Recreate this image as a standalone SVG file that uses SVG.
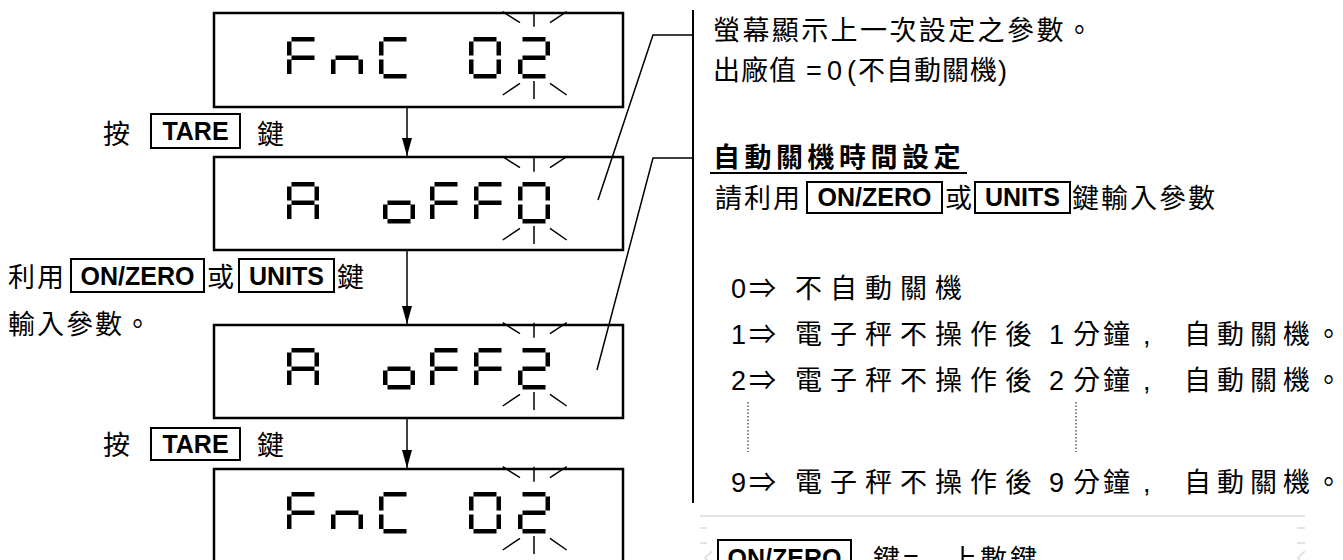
<svg xmlns="http://www.w3.org/2000/svg" width="1343" height="560" viewBox="0 0 1343 560">
<style>
.box{fill:none;stroke:#000;stroke-width:2.5}
.key{fill:none;stroke:#000;stroke-width:2}
.seg rect{fill:#000}
.ray{stroke:#000;stroke-width:1.5;fill:none}
.cn{stroke:#000;stroke-width:1.5;fill:none}
.ld{stroke:#000;stroke-width:1.5;fill:none}
.cjk{font-family:"Noto Sans CJK TC","Noto Sans CJK SC",sans-serif;font-size:27px;fill:#000}
.lat{font-family:"Liberation Sans",Arial,sans-serif;font-size:27px;fill:#000}
.kt{font-family:"Liberation Sans",Arial,sans-serif;font-weight:bold;font-size:25px;fill:#000;text-anchor:middle}
.dot{stroke:#333;stroke-width:1.2;stroke-dasharray:1.5 2;fill:none}
.faint{stroke:#e4e4e4;stroke-width:2;fill:none}
</style>
<defs>
<marker id="ah" viewBox="0 0 18 10" refX="18" refY="5" markerWidth="18" markerHeight="10" markerUnits="userSpaceOnUse" orient="auto">
<path d="M0,0 L18,5 L0,10 z" fill="#000"/>
</marker>
<g id="d-F" class="seg"><rect x="4.5" y="0" width="23" height="4.5"/><rect x="0" y="4.5" width="4.5" height="14"/><rect x="4.5" y="18.5" width="23" height="4.5"/><rect x="0" y="22.5" width="4.5" height="14.5"/></g>
<g id="d-n" class="seg"><rect x="4.5" y="18.5" width="23" height="4.5"/><rect x="0" y="22.5" width="4.5" height="14.5"/><rect x="27.5" y="22.5" width="4.5" height="14.5"/></g>
<g id="d-C" class="seg"><rect x="4.5" y="0" width="23" height="4.5"/><rect x="0" y="4.5" width="4.5" height="14"/><rect x="0" y="22.5" width="4.5" height="14.5"/><rect x="4.5" y="37" width="23" height="4.5"/></g>
<g id="d-0" class="seg"><rect x="4.5" y="0" width="23" height="4.5"/><rect x="0" y="4.5" width="4.5" height="14"/><rect x="27.5" y="4.5" width="4.5" height="14"/><rect x="0" y="22.5" width="4.5" height="14.5"/><rect x="27.5" y="22.5" width="4.5" height="14.5"/><rect x="4.5" y="37" width="23" height="4.5"/></g>
<g id="d-2" class="seg"><rect x="4.5" y="0" width="23" height="4.5"/><rect x="27.5" y="4.5" width="4.5" height="14"/><rect x="4.5" y="18.5" width="23" height="4.5"/><rect x="0" y="22.5" width="4.5" height="14.5"/><rect x="4.5" y="37" width="23" height="4.5"/></g>
<g id="d-A" class="seg"><rect x="4.5" y="0" width="23" height="4.5"/><rect x="0" y="4.5" width="4.5" height="14"/><rect x="27.5" y="4.5" width="4.5" height="14"/><rect x="4.5" y="18.5" width="23" height="4.5"/><rect x="0" y="22.5" width="4.5" height="14.5"/><rect x="27.5" y="22.5" width="4.5" height="14.5"/></g>
<g id="d-o" class="seg"><rect x="4.5" y="18.5" width="23" height="4.5"/><rect x="0" y="22.5" width="4.5" height="14.5"/><rect x="27.5" y="22.5" width="4.5" height="14.5"/><rect x="4.5" y="37" width="23" height="4.5"/></g>
<g id="blink" class="ray"><path d="M-31.3,-25.3 L-14,-14.3 M0,-25.3 L0,-10.3 M16,-14.3 L32.7,-25.3 M-31.3,58 L-14,46.3 M0,44 L0,62 M16,46.3 L32.7,58"/></g>
</defs>

<g id="display1">
<rect class="box" x="214" y="13" width="409" height="94"/>
<use href="#d-F" x="287" y="37"/><use href="#d-n" x="331" y="37"/><use href="#d-C" x="379" y="37"/><use href="#d-0" x="469" y="37"/><use href="#d-2" x="518" y="37"/>
<use href="#blink" x="534" y="37"/>
</g>
<g id="display2">
<rect class="box" x="214" y="157" width="409" height="93"/>
<use href="#d-A" x="287" y="182"/><use href="#d-o" x="383" y="182"/><use href="#d-F" x="430" y="182"/><use href="#d-F" x="474" y="182"/><use href="#d-0" x="518" y="182"/>
<use href="#blink" x="534" y="182"/>
</g>
<g id="display3">
<rect class="box" x="214" y="325" width="409" height="93"/>
<use href="#d-A" x="287" y="348"/><use href="#d-o" x="383" y="348"/><use href="#d-F" x="430" y="348"/><use href="#d-F" x="474" y="348"/><use href="#d-2" x="518" y="348"/>
<use href="#blink" x="534" y="348"/>
</g>
<g id="display4">
<rect class="box" x="214" y="469" width="409" height="94"/>
<use href="#d-F" x="287" y="492"/><use href="#d-n" x="331" y="492"/><use href="#d-C" x="379" y="492"/><use href="#d-0" x="469" y="492"/><use href="#d-2" x="518" y="492"/>
<use href="#blink" x="534" y="492"/>
</g>

<g id="connectors">
<line class="cn" x1="407" y1="108" x2="407" y2="156" marker-end="url(#ah)"/>
<line class="cn" x1="407" y1="251" x2="407" y2="324" marker-end="url(#ah)"/>
<line class="cn" x1="407" y1="419" x2="407" y2="468" marker-end="url(#ah)"/>
<polyline class="ld" points="598,200 653,35 693,35"/>
<polyline class="ld" points="597,370 653,158 693,158"/>
<line x1="693" y1="10" x2="693" y2="503" stroke="#000" stroke-width="2"/>
</g>

<g id="step-label-1">
<text class="cjk" x="103" y="144">按</text>
<rect class="key" x="151" y="114" width="89" height="34"/>
<text class="kt" x="195.5" y="140">TARE</text>
<text class="cjk" x="257" y="144">鍵</text>
</g>
<g id="step-label-2">
<text class="cjk" x="8" y="287" letter-spacing="2">利用</text>
<rect class="key" x="71" y="259" width="133" height="33"/>
<text class="kt" x="137.5" y="285">ON/ZERO</text>
<text class="cjk" x="207" y="287">或</text>
<rect class="key" x="239" y="259" width="95" height="33"/>
<text class="kt" x="286.5" y="285">UNITS</text>
<text class="cjk" x="337" y="287">鍵</text>
<text class="cjk" x="8" y="334" letter-spacing="2">輸入參數。</text>
</g>
<g id="step-label-3">
<text class="cjk" x="103" y="455">按</text>
<rect class="key" x="151" y="428" width="89" height="32"/>
<text class="kt" x="195.5" y="453">TARE</text>
<text class="cjk" x="257" y="455">鍵</text>
</g>

<g id="note-1">
<text class="cjk" x="713" y="40" letter-spacing="2.4">螢幕顯示上一次設定之參數。</text>
<text class="cjk" x="713" y="80" letter-spacing="1">出廠值</text>
<text class="lat" x="806" y="80">=</text>
<text class="lat" x="827" y="80">0</text>
<text class="lat" x="847" y="80">(</text>
<text class="cjk" x="858" y="80" letter-spacing="1">不自動關機</text>
<text class="lat" x="998" y="80">)</text>
</g>

<g id="note-2">
<text class="cjk" x="713" y="167" font-weight="bold" letter-spacing="4.5">自動關機時間設定</text>
<line x1="710" y1="173" x2="967" y2="173" stroke="#000" stroke-width="2"/>
<text class="cjk" x="715" y="208" letter-spacing="2">請利用</text>
<rect class="key" x="807" y="182" width="135" height="31"/>
<text class="kt" x="874.5" y="206">ON/ZERO</text>
<text class="cjk" x="945" y="208">或</text>
<rect class="key" x="975" y="182" width="95" height="31"/>
<text class="kt" x="1022.5" y="206">UNITS</text>
<text class="cjk" x="1072" y="208" letter-spacing="2">鍵輸入參數</text>

<text class="lat" x="731" y="298">0</text><text class="cjk" x="749" y="298">⇒</text>
<text class="cjk" x="795" y="298" letter-spacing="8">不自動關機</text>

<text class="lat" x="731" y="344">1</text><text class="cjk" x="749" y="344">⇒</text>
<text class="cjk" x="795" y="344" letter-spacing="8">電子秤不操作後</text>
<text class="lat" x="1049" y="344">1</text>
<text class="cjk" x="1073" y="344" letter-spacing="3">分鐘</text><text class="lat" x="1143" y="344">,</text>
<text class="cjk" x="1184 1217 1250 1283 1315" y="344">自動關機。</text>

<text class="lat" x="731" y="390">2</text><text class="cjk" x="749" y="390">⇒</text>
<text class="cjk" x="795" y="390" letter-spacing="8">電子秤不操作後</text>
<text class="lat" x="1049" y="390">2</text>
<text class="cjk" x="1073" y="390" letter-spacing="3">分鐘</text><text class="lat" x="1143" y="390">,</text>
<text class="cjk" x="1184 1217 1250 1283 1315" y="390">自動關機。</text>

<line class="dot" x1="748" y1="402" x2="748" y2="452"/>
<line class="dot" x1="1076" y1="402" x2="1076" y2="452"/>

<text class="lat" x="731" y="492">9</text><text class="cjk" x="749" y="492">⇒</text>
<text class="cjk" x="795" y="492" letter-spacing="8">電子秤不操作後</text>
<text class="lat" x="1049" y="492">9</text>
<text class="cjk" x="1073" y="492" letter-spacing="3">分鐘</text><text class="lat" x="1143" y="492">,</text>
<text class="cjk" x="1184 1217 1250 1283 1315" y="492">自動關機。</text>
</g>

<g id="page-edge">
<line class="faint" x1="700" y1="516" x2="1305" y2="516"/>
<path class="faint" d="M700,528 H707 M700,543 H707 M1297,528 H1305 M1297,543 H1305"/>
<polyline class="faint" points="712,551 705,558 712,566"/>
<polyline class="faint" points="1305,551 1298,558 1305,566"/>
</g>
<g id="note-3">
<rect class="key" x="718" y="540" width="133" height="34"/>
<text class="kt" x="784.5" y="567">ON/ZERO</text>
<text class="cjk" x="873" y="569">鍵</text>
<text class="lat" x="903" y="569">=</text>
<text class="cjk" x="950" y="569" letter-spacing="3">上數鍵</text>
</g>
</svg>
